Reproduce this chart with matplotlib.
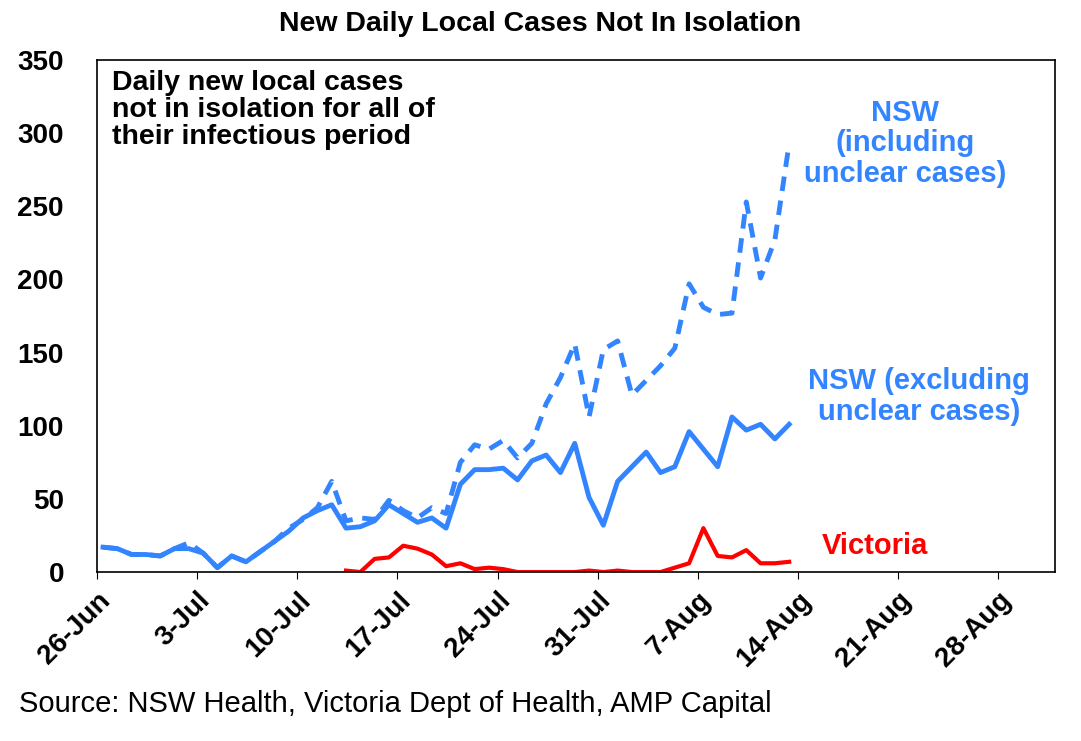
import matplotlib
matplotlib.use("Agg")
import matplotlib.pyplot as plt
import numpy as np

plt.rcParams['font.family'] = ['Liberation Sans', 'DejaVu Sans']

tick_labels = ["26-Jun", "3-Jul", "10-Jul", "17-Jul", "24-Jul", "31-Jul", "7-Aug", "14-Aug", "21-Aug", "28-Aug"]

nsw_excl = [17, 16, 12, 12, 11, 16, 16, 13, 3, 11, 7, 14, 21, 28, 37, 42, 46, 30, 31, 35,
            46, 40, 34, 37, 30, 60, 70, 70, 71, 63, 76, 80, 68, 88, 51, 32, 62, 72, 82, 68,
            72, 96, 84, 72, 106, 97, 101, 91, 101]
nsw_incl = [17, 16, 12, 12, 11, 16, 20, 13, 3, 11, 7, 14, 21, 30, 36, 44, 62, 35, 37, 36,
            49, 42, 37, 44, 40, 75, 87, 84, 90, 78, 88, 115, 133, 156, 106, 152, 158, 121, 131, 141,
            153, 197, 181, 176, 177, 253, 201, 227, 293]
vic_start = 17
vic = [1, 0, 9, 10, 18, 16, 12, 4, 6, 2, 3, 2, 0, 0, 0, 0, 0, 1, 0, 1, 0, 0, 0, 3, 6, 30, 11, 10, 15, 6, 6, 7]

fig = plt.figure(figsize=(10.81, 7.41), dpi=100)
ax = fig.add_axes([0.09, 0.228, 0.886, 0.691])

blue = '#3385FF'
off = 0.4
x = np.arange(len(nsw_excl)) + off
ax.plot(x, nsw_incl, color=blue, lw=3.5, ls=(0, (3, 2)))
ax.plot(x, nsw_excl, color=blue, lw=3.5)
ax.plot(np.arange(vic_start, vic_start + len(vic)) + off, vic, color='#FF0000', lw=3)

ax.set_xlim(0, 67)
ax.set_ylim(0, 350)
ax.set_yticks(range(0, 351, 50))
ax.set_xticks(np.arange(0, 64, 7))
ax.set_xticklabels(tick_labels, rotation=45, ha='right', rotation_mode='anchor')
for lab in ax.get_xticklabels() + ax.get_yticklabels():
    lab.set_fontsize(20)
    lab.set_fontweight('bold')
ax.tick_params(axis='x', length=5, pad=6)
ax.tick_params(axis='y', length=0, pad=24)
for s in ax.spines.values():
    s.set_linewidth(1.2)

fig.text(0.5, 0.967, "New Daily Local Cases Not In Isolation", ha='center', va='center',
         fontsize=20.5, fontweight='bold')
ax.text(1.0, 343, "Daily new local cases\nnot in isolation for all of\ntheir infectious period",
        fontsize=20.5, fontweight='bold', va='top', ha='left', linespacing=1.05)
ax.text(56.5, 293, "NSW\n(including\nunclear cases)", color=blue, fontsize=21, fontweight='bold',
        ha='center', va='center', linespacing=1.1)
ax.text(57.5, 120, "NSW (excluding\nunclear cases)", color=blue, fontsize=21, fontweight='bold',
        ha='center', va='center', linespacing=1.1)
ax.text(50.7, 18, "Victoria", color='#FF0000', fontsize=21, fontweight='bold', ha='left', va='center')
fig.text(0.018, 0.05, "Source: NSW Health, Victoria Dept of Health, AMP Capital", fontsize=21,
         ha='left', va='center')

fig.savefig("out.png", dpi=100)
